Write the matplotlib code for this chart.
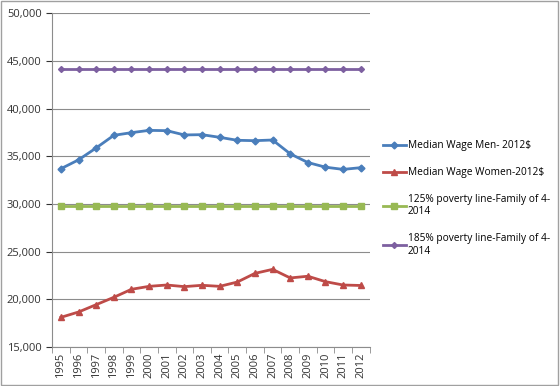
import matplotlib.pyplot as plt
from matplotlib.ticker import FuncFormatter, FixedLocator

years = [str(y) for y in range(1995, 2013)]
men = [33690, 34620, 35870, 37190, 37470, 37710, 37680, 37230, 37260,
       36980, 36670, 36630, 36700, 35250, 34340, 33850, 33620, 33800]
women = [18110, 18670, 19440, 20210, 21050, 21360, 21500, 21330, 21470,
         21360, 21810, 22720, 23140, 22240, 22420, 21850, 21500, 21450]
pov125 = [29810] * len(years)
pov185 = [44120] * len(years)

labels = ["Median Wage Men- 2012$",
          "Median Wage Women-2012$",
          "125% poverty line-Family of 4-\n2014",
          "185% poverty line-Family of 4-\n2014"]

plt.rcParams['font.family'] = ['Open Sans', 'DejaVu Sans']

fig = plt.figure(figsize=(5.6, 3.86), dpi=100)
ax = fig.add_axes([0.093, 0.101, 0.567, 0.865])

x = list(range(len(years)))
ax.plot(x, men, color='#4A7EBB', lw=2, marker='D', ms=3.5, label=labels[0])
ax.plot(x, women, color='#BE4B48', lw=2, marker='^', ms=4.5, label=labels[1])
ax.plot(x, pov125, color='#98B954', lw=2, marker='s', ms=4, label=labels[2])
ax.plot(x, pov185, color='#7D60A0', lw=2, marker='D', ms=3, label=labels[3])

ax.set_ylim(15000, 50000)
ax.set_yticks(range(15000, 50001, 5000))
ax.yaxis.set_major_formatter(FuncFormatter(lambda v, p: f"{int(v):,}"))
ax.grid(axis='y', color='#8c8c8c', lw=0.8)
ax.set_axisbelow(True)

ax.set_xlim(-0.5, len(years) - 0.5)
ax.set_xticks(x)
ax.set_xticklabels(years, rotation=90)
ax.xaxis.set_minor_locator(FixedLocator([i - 0.5 for i in range(len(years) + 1)]))
ax.tick_params(axis='x', which='major', length=0, pad=4)
ax.tick_params(axis='x', which='minor', length=4, color='#8c8c8c', direction='out')
ax.tick_params(axis='y', length=4, color='#8c8c8c', direction='out')
ax.tick_params(labelsize=8, colors='#333333')

for s in ['top', 'right']:
    ax.spines[s].set_visible(False)
for s in ['left', 'bottom']:
    ax.spines[s].set_color('#8c8c8c')

fig.legend(loc='upper left', bbox_to_anchor=(0.668, 0.66), frameon=False,
           fontsize=7.3, handlelength=2.2, handletextpad=0.2, labelspacing=1.55)

fig.patches.append(plt.Rectangle((0.002, 0.003), 0.995, 0.994, transform=fig.transFigure,
                                 fill=False, edgecolor='#a0a0a0', lw=1))

plt.savefig('out.png')
